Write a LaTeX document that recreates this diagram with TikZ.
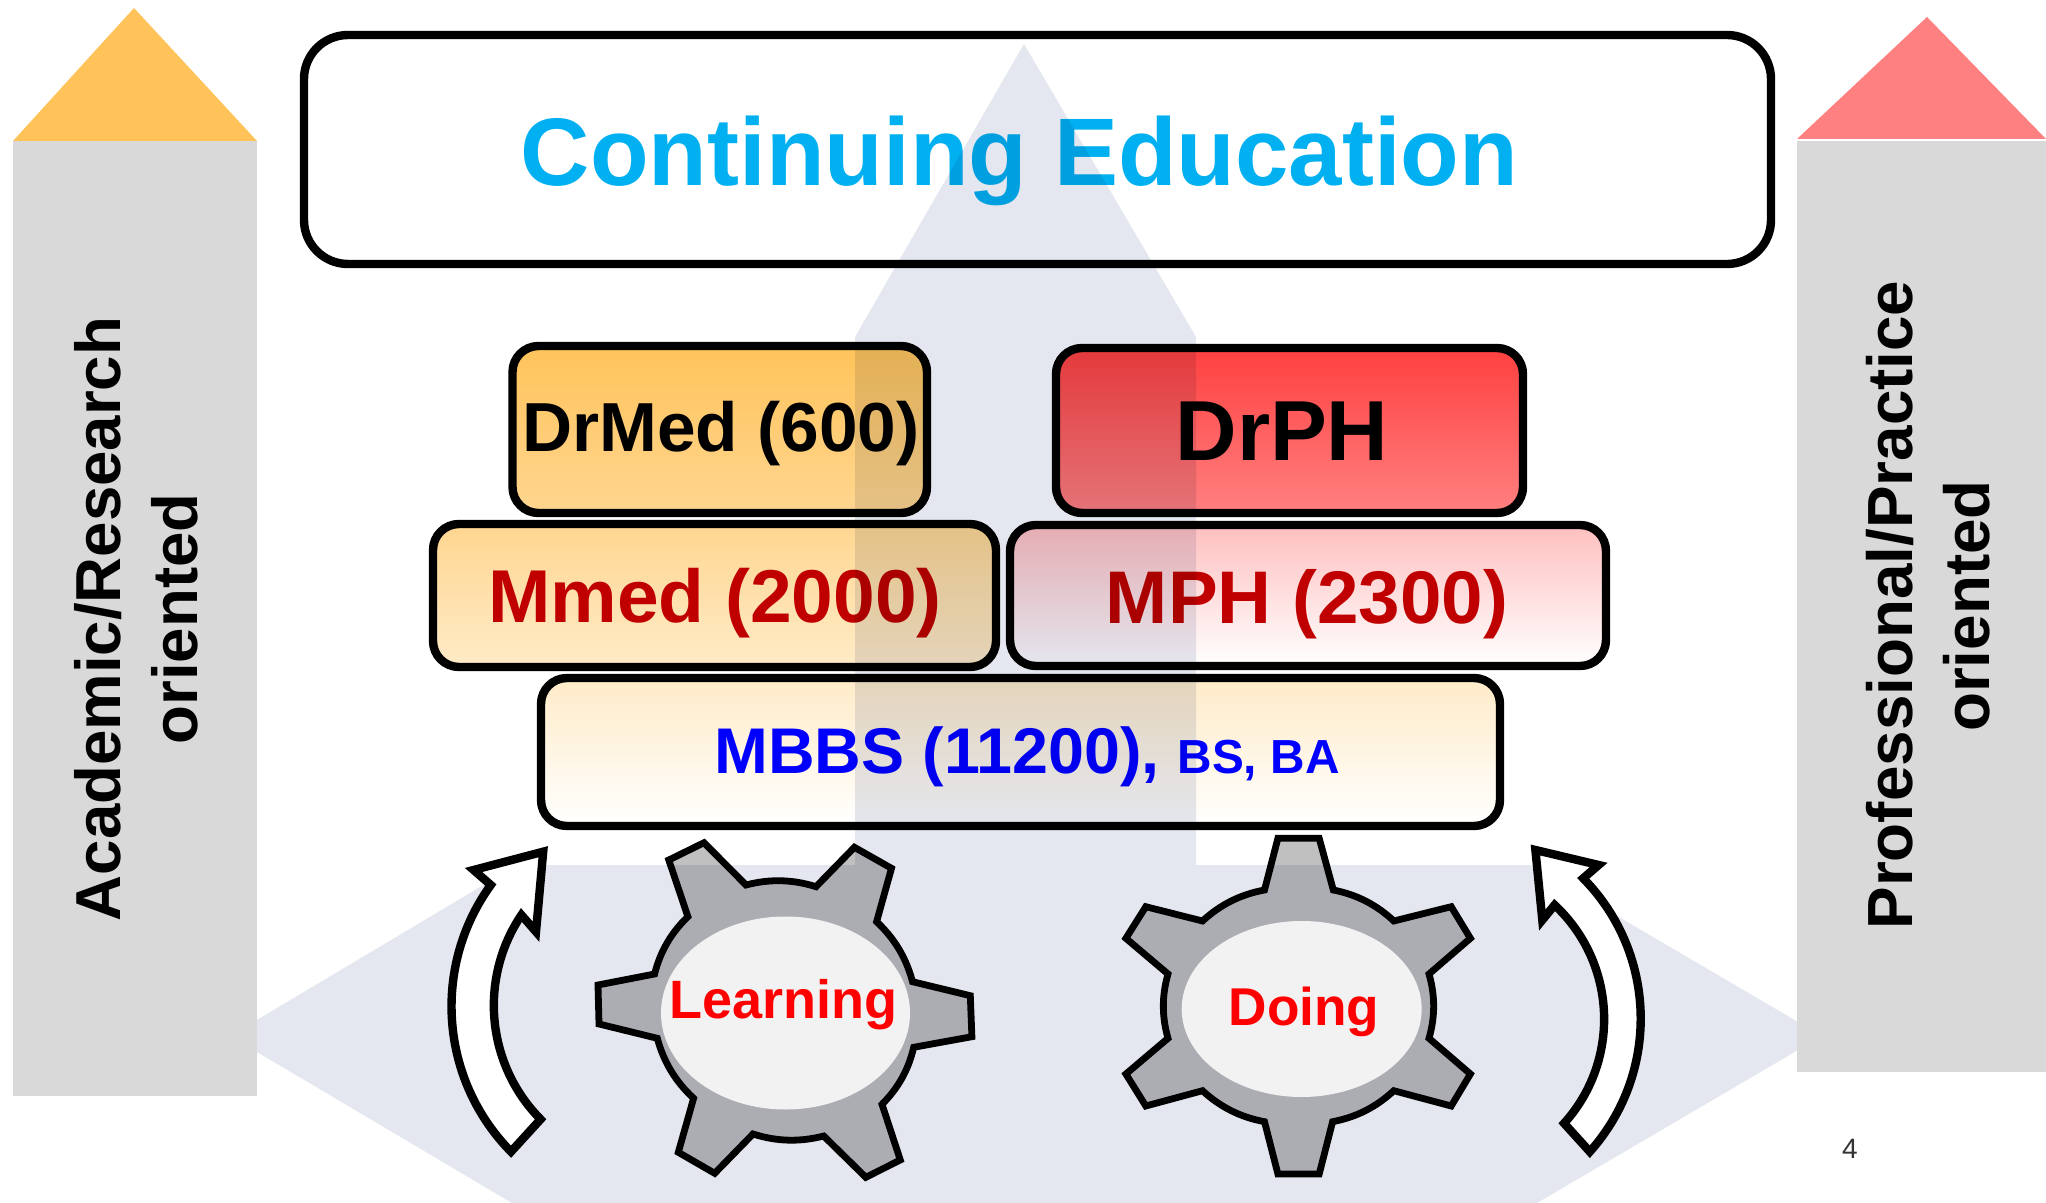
\documentclass[tikz,border=0pt]{standalone}
\usepackage{fontspec}
\setmainfont{Liberation Sans}
\usetikzlibrary{calc,shapes.geometric}
\newcommand{\fz}[1]{\fontsize{#1}{#1}\selectfont\bfseries}
\definecolor{bandc}{HTML}{E4E7EF}
\definecolor{sidegray}{HTML}{D9D9D9}
\definecolor{gearc}{HTML}{C0C0C0}
\definecolor{ellc}{HTML}{F2F2F2}
\definecolor{cedu}{HTML}{00B0F0}
\definecolor{dred}{HTML}{C00000}
\definecolor{orA}{HTML}{FFC35A}
\definecolor{orB}{HTML}{FFD690}
\definecolor{orC}{HTML}{FFEBC8}
\definecolor{rdA}{HTML}{FF4040}
\definecolor{rdB}{HTML}{FF8080}
\definecolor{rdC}{HTML}{FFBFBF}
\tikzset{
  lvl/.style={draw=black,line width=4.2pt,rounded corners=13pt,inner sep=0pt,outer sep=0pt},
  lbl/.style={inner sep=0pt,outer sep=0pt,anchor=base},
  gearshape/.style={draw=black,fill=gearc,line width=3.4pt,miter limit=10},
  hub/.style={ellipse,fill=ellc,inner sep=0pt,outer sep=0pt},
  curvearrow/.style={draw=black,fill=white,line width=4.2pt,miter limit=10},
  sidebar/.style={fill=sidegray},
  bl/.style={bend left=16,looseness=.9}
}
\begin{document}
\begin{tikzpicture}[x=0.5pt,y=-0.5pt]
\useasboundingbox (0,0) rectangle (2046,1203);
% level boxes
\node[lvl,fill=white,rounded corners=22pt,minimum width=733.5pt,minimum height=114.5pt] (ce) at (1037.5,149.5) {};
\node[lbl,text=cedu] (cet) at (1019.5,186) {\fz{48}Continuing Education};
\node[lvl,top color=orA,bottom color=orB,minimum width=207.25pt,minimum height=83.5pt] (drmed) at (719.75,429.5) {};
\node[lvl,top color=rdA,bottom color=rdB,minimum width=233.5pt,minimum height=82.5pt] (drph) at (1289.5,430.5) {};
\node[lvl,top color=orB,bottom color=orC,minimum width=281.5pt,minimum height=71.5pt] (mmed) at (714.5,595.5) {};
\node[lvl,top color=rdC,bottom color=white,minimum width=298pt,minimum height=70.5pt] (mph) at (1308,595.5) {};
\node[lvl,top color=orC,bottom color=white,minimum width=479.5pt,minimum height=74pt] (mbbs) at (1020.5,752) {};
\node[lbl] (drmedt) at (721,452) {\fz{34.7}DrMed (600)};
\node[lbl] (drpht) at (1282,460.5) {\fz{42.6}DrPH};
\node[lbl,text=dred] (mmedt) at (715,622.5) {\fz{37.45}Mmed (2000)};
\node[lbl,text=dred] (mpht) at (1307,623) {\fz{37.3}MPH (2300)};
\node[lbl,text=blue] (mbbst) at (1027,773) {\fz{32.3}MBBS (11200), {\fz{23.9}BS, BA}};
% gears
\draw[gearshape] (668.8,860) -- (704,842.7) -- (746,885) to[bl] (816,886.7) -- (854.4,847.3) -- (891.5,868.3) -- (876.6,921.7) to[bl] (912.5,981.7) -- (970.3,995.7) -- (971.9,1036.7) -- (913.7,1047.3) to[bl] (882,1104.3) -- (900.3,1160) -- (865.8,1177.3) -- (823.7,1136) to[bl] (753,1134) -- (714.7,1173.3) -- (678.3,1152.3) -- (693.6,1098.3) to[bl] (657.3,1038.3) -- (599,1024) -- (598,985) -- (654.6,974) to[bl] (687.9,916.7) -- cycle;
\draw[gearshape] (1277.9,838.3) -- (1319.2,838.3) -- (1333.3,890) to[bl] (1393.8,921) -- (1451.2,906.7) -- (1470.4,938.3) -- (1429,974) to[bl] (1429,1038.3) -- (1470.4,1074) -- (1451.2,1106) -- (1393.8,1090.7) to[bl] (1332.6,1121.7) -- (1319.2,1174) -- (1277.9,1174) -- (1264.5,1121.7) to[bl] (1202.5,1090.7) -- (1145.8,1106) -- (1125.9,1074) -- (1168,1038.3) to[bl] (1168,974) -- (1125.9,938.3) -- (1145.8,906.7) -- (1202.5,921) to[bl] (1264.5,890) -- cycle;
% translucent background arrows
\begin{scope}[blend mode=multiply]
\fill[bandc] (1024,44) -- (1196,337) -- (1196,865) -- (1530,865) -- (1822,1036) -- (1537,1203) -- (512,1203) -- (230,1036) -- (517,865) -- (855,865) -- (855,337) -- cycle;
\end{scope}
% hubs
\node[hub,minimum width=124.5pt,minimum height=96.5pt] (learnhub) at (785.5,1013) {};
\node[hub,minimum width=120pt,minimum height=88pt] (dohub) at (1301.7,1009) {};
\node[lbl,text=red] (learnt) at (783.5,1018) {\fz{27}Learning};
\node[lbl,text=red] (dot) at (1304,1025) {\fz{26.6}Doing};
% curved arrows
\draw[curvearrow] (543.2,851.7) -- (473.6,870) -- (490.8,885) .. controls (431.6,966.9) and (440.1,1079.7) .. (511,1151.7) -- (540.6,1119.3) .. controls (486.4,1064.5) and (478.4,978.9) .. (521.4,915) -- (536,931.7) -- cycle;
\draw[curvearrow] (1535.4,850) -- (1598.6,865) -- (1583.2,878.3) .. controls (1657.2,953.7) and (1660.2,1072.9) .. (1589.8,1151.7) -- (1564.1,1123.3) .. controls (1621,1060.2) and (1616.7,963) .. (1554.6,905) -- (1542.3,920) -- cycle;
% side arrows
\fill[sidebar] (13,141) rectangle (257,1096);
\fill[orA] (134,8) -- (257,141) -- (13,141) -- cycle;
\fill[sidebar] (1797,141) rectangle (2046,1072);
\fill[rdB] (1927,17) -- (2046,139) -- (1797,139) -- cycle;
\node[lbl,rotate=90] (acad) at (120,619) {\fz{31.8}Academic/Research};
\node[lbl,rotate=90] (acadb) at (197,619) {\fz{31.8}oriented};
\node[lbl,rotate=90] (prof) at (1912,605) {\fz{31.9}Professional/Practice};
\node[lbl,rotate=90] (profb) at (1989,606) {\fz{31.9}oriented};
\node[lbl,text=black!80] (pnum) at (1850,1158) {\fontsize{14}{14}\selectfont 4};
\end{tikzpicture}
\end{document}
